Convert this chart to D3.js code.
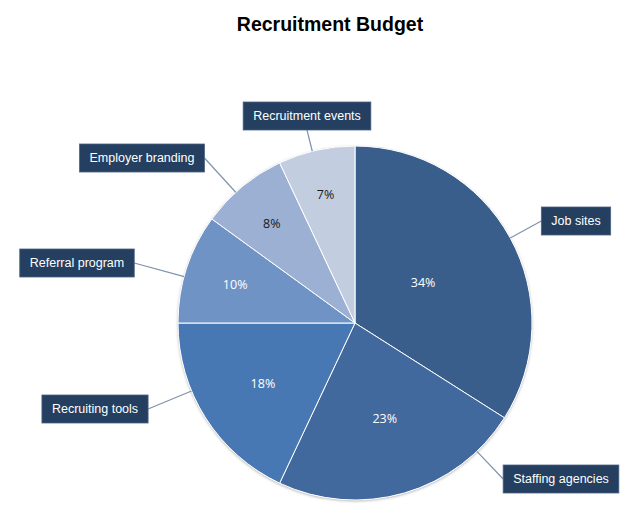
<!DOCTYPE html>
<html>
<head>
<meta charset="utf-8">
<script src="https://cdn.jsdelivr.net/npm/d3@7"></script>
<style>
  body { margin: 0; background: #fff; }
  svg { display: block; }
</style>
</head>
<body>
<div id="chart"></div>
<script>
// data
const categories = ['Job sites', 'Staffing agencies', 'Recruiting tools', 'Referral program', 'Employer branding', 'Recruitment events'];
const shares = [34, 23, 18, 10, 8, 7];

// slice colours, same order as categories
const sliceColors = ['#3a5e8b', '#41699e', '#4878b4', '#7093c5', '#9cb0d4', '#c3cde0'];
const darkText = ['Employer branding', 'Recruitment events'];

// where the callout boxes sit (centre of each box)
const calloutPos = {
  'Job sites': [576, 221],
  'Staffing agencies': [561, 479],
  'Recruiting tools': [95, 409],
  'Referral program': [77, 263],
  'Employer branding': [142, 158],
  'Recruitment events': [307, 116]
};

const width = 640;
const height = 530;
const cx = 355;
const cy = 323;
const radius = 177;

const svg = d3.select('#chart')
  .append('svg')
  .attr('width', width)
  .attr('height', height);

// soft shadow round the pie
const defs = svg.append('defs');
const filter = defs.append('filter').attr('id', 'shadow')
  .attr('x', '-10%').attr('y', '-10%').attr('width', '120%').attr('height', '120%');
filter.append('feDropShadow')
  .attr('dx', 0).attr('dy', 1).attr('stdDeviation', 1.5)
  .attr('flood-color', '#000').attr('flood-opacity', 0.35);

svg.append('text')
  .attr('x', 330)
  .attr('y', 31)
  .attr('text-anchor', 'middle')
  .style('font-family', '"Liberation Sans", Arial, sans-serif')
  .style('font-weight', 'bold')
  .style('font-size', '19.5px')
  .text('Recruitment Budget');

const rows = categories.map((c, i) => ({ name: c, value: shares[i] }));
const total = d3.sum(shares);

const color = d3.scaleOrdinal().domain(categories).range(sliceColors);

const pie = d3.pie().sort(null).value(d => d.value);
const arcs = pie(rows);

const arc = d3.arc().innerRadius(0).outerRadius(radius);

const g = svg.append('g').attr('transform', `translate(${cx},${cy})`);

g.append('circle')
  .attr('r', radius)
  .attr('fill', '#fff')
  .attr('filter', 'url(#shadow)');

g.selectAll('path.slice')
  .data(arcs)
  .join('path')
  .attr('class', 'slice')
  .attr('d', arc)
  .attr('fill', d => color(d.data.name))
  .attr('stroke', '#fff')
  .attr('stroke-width', 1);

// percentage labels: small slices get pushed further out
g.selectAll('text.pct')
  .data(arcs)
  .join('text')
  .attr('class', 'pct')
  .attr('transform', d => {
    const p = d.data.value / total;
    const r = radius * (0.82 - 1.1 * p);
    const a = (d.startAngle + d.endAngle) / 2 - 0.08 * p;
    return `translate(${r * Math.sin(a)},${-r * Math.cos(a)})`;
  })
  .attr('text-anchor', 'middle')
  .attr('dy', '0.35em')
  .style('font-family', '"Open Sans", "Noto Sans", sans-serif')
  .style('font-size', '12.5px')
  .attr('fill', d => darkText.includes(d.data.name) ? '#1a1a1a' : '#fff')
  .text(d => Math.round(d.data.value / total * 100) + '%');

// callouts
const boxH = 28;
const padX = 10;
const callouts = svg.append('g');

arcs.forEach(d => {
  const [bx, by] = calloutPos[d.data.name];

  const grp = callouts.append('g');
  const txt = grp.append('text')
    .attr('x', bx)
    .attr('y', by)
    .attr('dy', '0.35em')
    .attr('text-anchor', 'middle')
    .attr('fill', '#fff')
    .style('font-family', '"Liberation Sans", Arial, sans-serif')
    .style('font-size', '12.5px')
    .text(d.data.name);
  const w = txt.node().getComputedTextLength() + padX * 2;
  const left = bx - w / 2;
  const right = bx + w / 2;

  // anchor on the side of the box facing the pie
  let ax, ay;
  if (right < cx) { ax = right; ay = by; }
  else if (left > cx) { ax = left; ay = by; }
  else { ax = bx; ay = by + boxH / 2; }

  // point on the rim toward that anchor, kept inside the slice
  let a = Math.atan2(ax - cx, -(ay - cy));
  if (a < 0) a += 2 * Math.PI;
  a = Math.max(d.startAngle, Math.min(d.endAngle, a));
  const px = cx + radius * Math.sin(a);
  const py = cy - radius * Math.cos(a);

  callouts.insert('line', ':first-child')
    .attr('x1', ax).attr('y1', ay)
    .attr('x2', px).attr('y2', py)
    .attr('stroke', '#7f93aa')
    .attr('stroke-width', 1.2);

  grp.insert('rect', 'text')
    .attr('x', left)
    .attr('y', by - boxH / 2)
    .attr('width', w)
    .attr('height', boxH)
    .attr('fill', '#243f60')
    .attr('stroke', '#4b6385')
    .attr('stroke-width', 0.8);
});
</script>
</body>
</html>
